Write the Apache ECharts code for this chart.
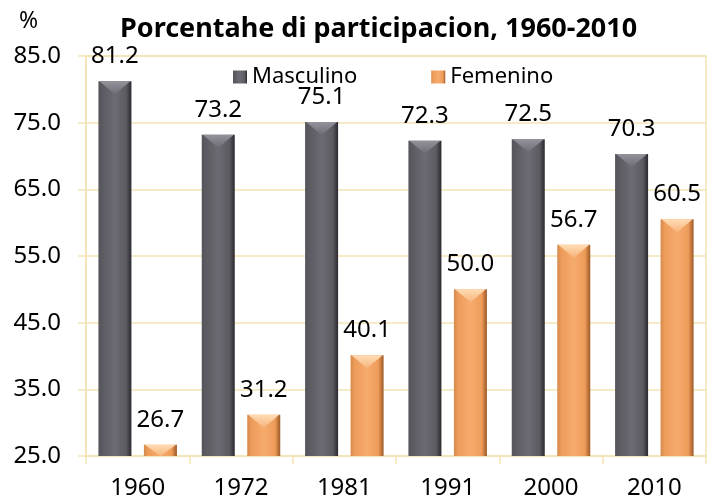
<!DOCTYPE html>
<html>
<head>
<meta charset="utf-8">
<script src="https://cdn.jsdelivr.net/npm/echarts@6/dist/echarts.min.js"></script>
<style>
  html, body { margin: 0; padding: 0; background: #fff; }
  #main { width: 716px; height: 503px; }
</style>
</head>
<body>
<div id="main"></div>
<script>
// datos
var years = ['1960', '1972', '1981', '1991', '2000', '2010'];
var masculino = [81.2, 73.2, 75.1, 72.3, 72.5, 70.3];
var femenino = [26.7, 31.2, 40.1, 50.0, 56.7, 60.5];
var seriesNames = ['Masculino', 'Femenino'];

var FONT = "'Noto Sans', 'Liberation Sans', sans-serif";
var gridColor = '#f3e3b5';
var BAR_W = 33;
var GAP = 12.5;

// degradado horizontal para imitar el biselado
function bevel(edge, mid, light, edgeR) {
  return new echarts.graphic.LinearGradient(0, 0, 1, 0, [
    { offset: 0, color: edge },
    { offset: 0.13, color: mid },
    { offset: 0.5, color: light },
    { offset: 0.84, color: mid },
    { offset: 1, color: edgeR }
  ]);
}
// triangulo de arriba
function topBevel(a, b) {
  return new echarts.graphic.LinearGradient(0, 0, 0, 1, [
    { offset: 0, color: a },
    { offset: 1, color: b }
  ]);
}

// dibuja el bisel de arriba de cada barra (dx = desplazamiento dentro de la categoria)
function bevelSeries(name, values, dx, fill) {
  return {
    name: name,
    type: 'custom',
    silent: true,
    z: 5,
    data: values.map(function (v, i) { return [i, v]; }),
    renderItem: function (params, api) {
      var top = api.coord([api.value(0), api.value(1)]);
      var base = api.coord([api.value(0), 25]);
      var cx = top[0] + dx;
      var h = Math.min(13, base[1] - top[1]);
      return {
        type: 'polygon',
        shape: { points: [[cx - BAR_W / 2 + 1, top[1]], [cx + BAR_W / 2 - 1, top[1]], [cx, top[1] + h]] },
        style: { fill: fill }
      };
    }
  };
}

var labelStyle = {
  show: true,
  position: 'top',
  distance: 13,
  fontFamily: FONT,
  fontSize: 24,
  color: '#000',
  formatter: function (p) { return p.value.toFixed(1); }
};

var chart = echarts.init(document.getElementById('main'));

var option = {
  backgroundColor: '#ffffff',
  animation: false,
  title: [
    {
      text: 'Porcentahe di participacion, 1960-2010',
      left: 115,
      top: 11,
      textStyle: { fontFamily: FONT, fontSize: 27, fontWeight: 'bold', color: '#000' }
    },
    {
      text: '%',
      left: 14,
      top: 5,
      textStyle: { fontFamily: FONT, fontSize: 23, fontWeight: 'normal', color: '#000' }
    }
  ],
  legend: {
    data: seriesNames,
    left: 228,
    top: 61,
    itemWidth: 14,
    itemHeight: 13,
    itemGap: 74,
    icon: 'rect',
    textStyle: { fontFamily: FONT, fontSize: 22, color: '#000' }
  },
  grid: { left: 86, right: 10, top: 56, bottom: 47, show: true, borderColor: gridColor, borderWidth: 1.5 },
  xAxis: {
    type: 'category',
    data: years,
    axisLine: { show: true, lineStyle: { color: gridColor, width: 1.5 } },
    axisTick: { show: true, length: 8, lineStyle: { color: gridColor, width: 1.5 } },
    axisLabel: { margin: 20, fontFamily: FONT, fontSize: 24, color: '#000' }
  },
  yAxis: {
    type: 'value',
    min: 25,
    max: 85,
    interval: 10,
    axisLine: { show: true, lineStyle: { color: gridColor, width: 1.5 } },
    axisTick: { show: true, length: 8, lineStyle: { color: gridColor, width: 1.5 } },
    splitLine: { lineStyle: { color: gridColor, width: 1.5 } },
    axisLabel: {
      margin: 25,
      fontFamily: FONT,
      fontSize: 24,
      color: '#000',
      formatter: function (v) { return v.toFixed(1); }
    }
  },
  series: [
    {
      name: seriesNames[0],
      type: 'bar',
      data: masculino,
      barWidth: BAR_W,
      barGap: (GAP / BAR_W * 100) + '%',
      itemStyle: { color: bevel('#55545b', '#5c5b62', '#6c6a72', '#2a292e') },
      label: labelStyle
    },
    {
      name: seriesNames[1],
      type: 'bar',
      data: femenino,
      barWidth: BAR_W,
      itemStyle: { color: bevel('#d68a4c', '#ee9c5a', '#f6ab6e', '#9c5824') },
      label: labelStyle
    },
    bevelSeries('biselM', masculino, -(BAR_W + GAP) / 2, topBevel('#94929a', '#6e6c74')),
    bevelSeries('biselF', femenino, (BAR_W + GAP) / 2, topBevel('#ffdcb5', '#f7b47a'))
  ]
};

chart.setOption(option);
</script>
</body>
</html>
